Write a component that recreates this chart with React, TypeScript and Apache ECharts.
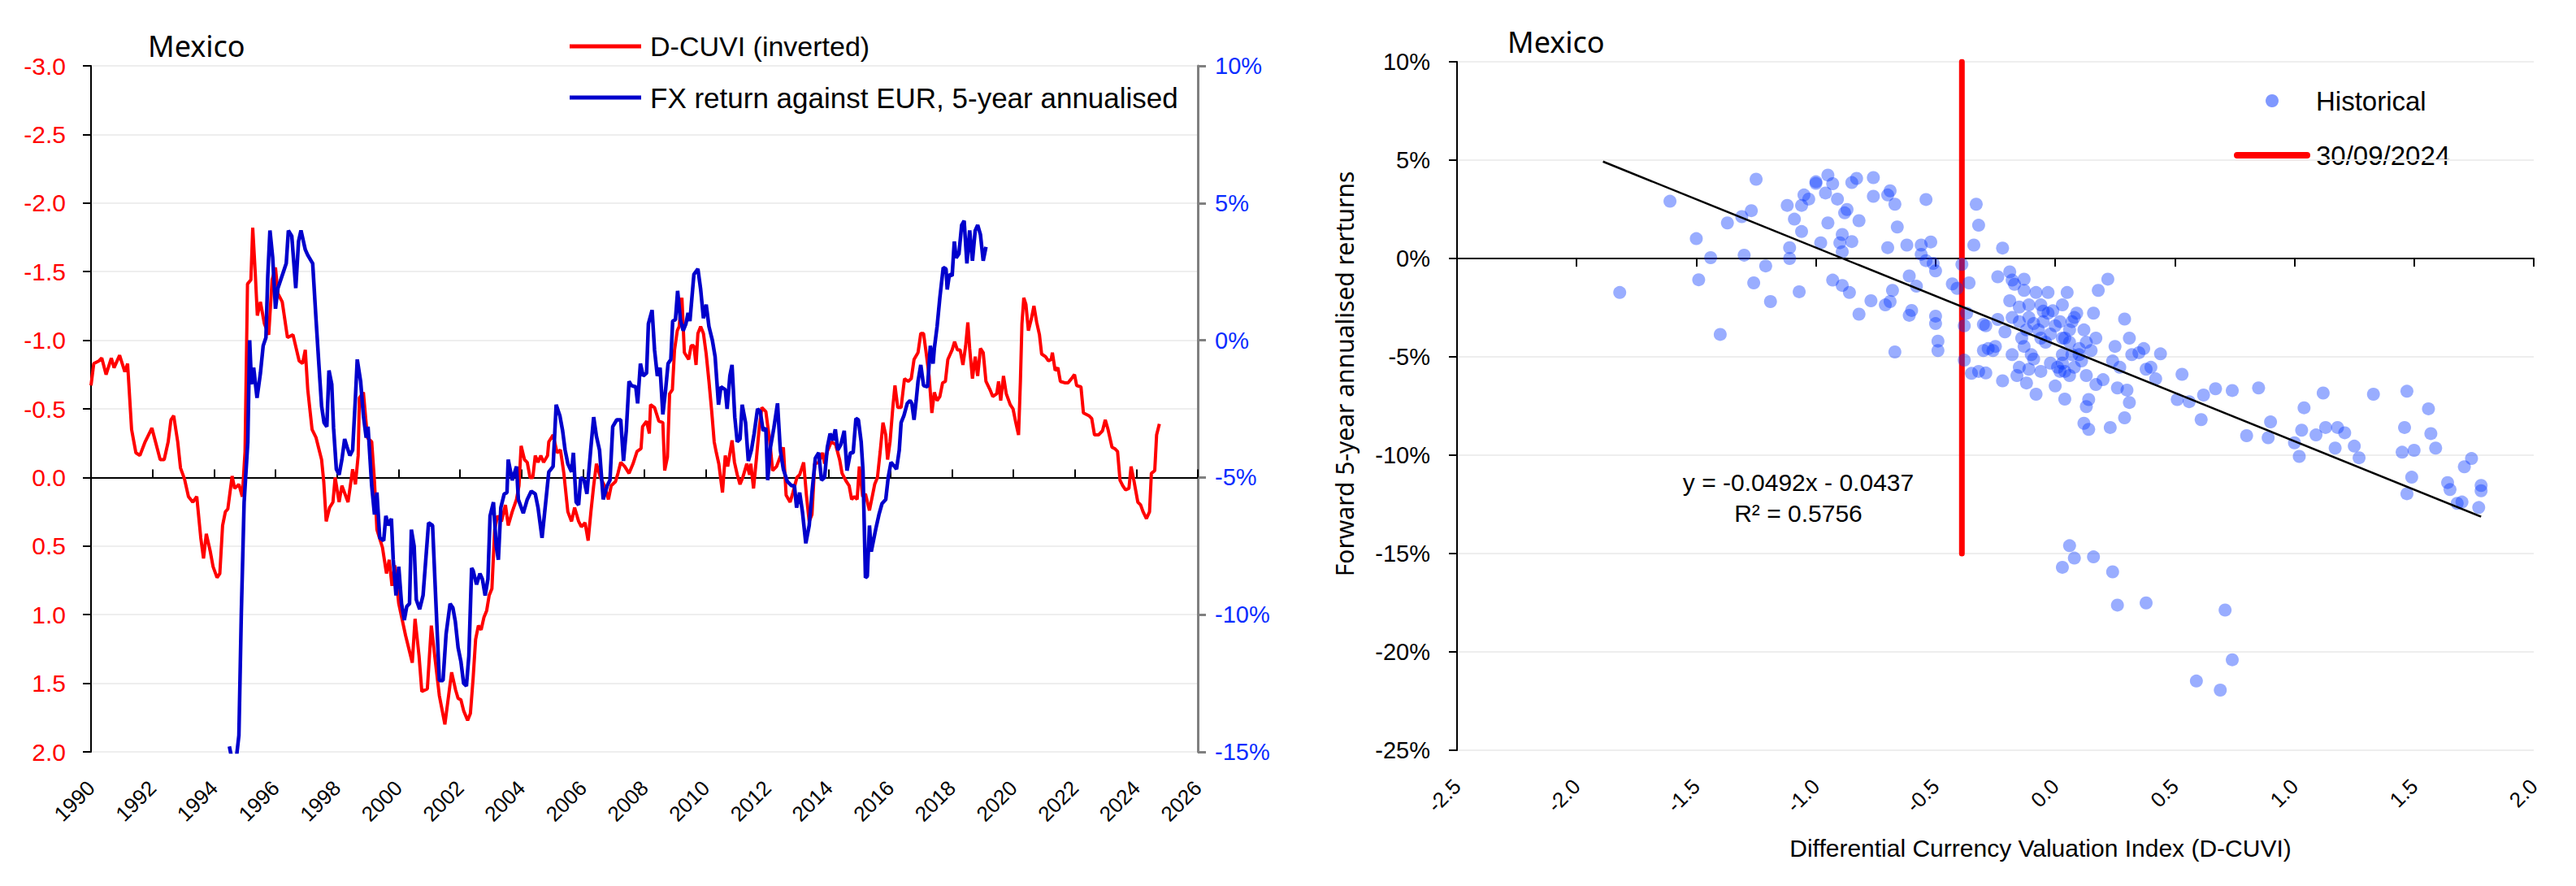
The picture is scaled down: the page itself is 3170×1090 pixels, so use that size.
import React, { useEffect, useRef } from "react";
import * as echarts from "echarts";

// ---------- Left chart data (decimal years) ----------
const dcuviYears = [
  1990.0, 1990.09, 1990.26, 1990.35, 1990.49, 1990.66, 1990.75, 1990.93, 1991.1, 1991.19, 1991.32, 1991.46, 1991.59,
  1991.76, 1991.98, 1992.25, 1992.38, 1992.51, 1992.6, 1992.69, 1992.82, 1992.91, 1993.04, 1993.17, 1993.31, 1993.44,
  1993.57, 1993.66, 1993.75, 1993.88, 1993.97, 1994.1, 1994.19, 1994.28, 1994.37, 1994.45, 1994.59, 1994.67, 1994.81,
  1994.92, 1995.01, 1995.09, 1995.2, 1995.26, 1995.34, 1995.41, 1995.51, 1995.64, 1995.78, 1995.89, 1996.0, 1996.08,
  1996.22, 1996.39, 1996.57, 1996.77, 1996.88, 1996.97, 1997.05, 1997.19, 1997.32, 1997.5, 1997.57, 1997.65, 1997.76,
  1997.87, 1997.94, 1998.07, 1998.16, 1998.36, 1998.51, 1998.6, 1998.69, 1998.73, 1998.86, 1998.99, 1999.13, 1999.22,
  1999.3, 1999.48, 1999.61, 1999.7, 1999.79, 1999.88, 2000.01, 2000.23, 2000.45, 2000.54, 2000.67, 2000.76, 2000.94,
  2001.07, 2001.2, 2001.33, 2001.51, 2001.73, 2001.86, 2001.94, 2002.03, 2002.12, 2002.25, 2002.34, 2002.43, 2002.51,
  2002.6, 2002.69, 2002.78, 2002.87, 2002.95, 2003.04, 2003.13, 2003.22, 2003.35, 2003.48, 2003.57, 2003.7, 2003.84,
  2003.92, 2003.99, 2004.1, 2004.19, 2004.28, 2004.37, 2004.45, 2004.54, 2004.63, 2004.72, 2004.85, 2004.89, 2005.03,
  2005.16, 2005.27, 2005.38, 2005.51, 2005.63, 2005.73, 2005.86, 2005.95, 2006.07, 2006.17, 2006.26, 2006.35, 2006.44,
  2006.57, 2006.7, 2006.83, 2006.92, 2007.06, 2007.14, 2007.23, 2007.36, 2007.5, 2007.63, 2007.76, 2007.89, 2007.94,
  2008.07, 2008.16, 2008.2, 2008.33, 2008.47, 2008.6, 2008.66, 2008.75, 2008.82, 2008.91, 2008.98, 2009.07, 2009.13,
  2009.22, 2009.3, 2009.44, 2009.52, 2009.61, 2009.68, 2009.74, 2009.83, 2009.92, 2010.01, 2010.1, 2010.19, 2010.27,
  2010.34, 2010.42, 2010.54, 2010.63, 2010.71, 2010.85, 2010.93, 2011.02, 2011.11, 2011.2, 2011.33, 2011.42, 2011.46,
  2011.55, 2011.64, 2011.73, 2011.82, 2011.95, 2012.08, 2012.17, 2012.3, 2012.43, 2012.52, 2012.61, 2012.74, 2012.83,
  2012.96, 2013.05, 2013.18, 2013.27, 2013.36, 2013.45, 2013.54, 2013.67, 2013.8, 2013.86, 2013.95, 2014.08, 2014.22,
  2014.35, 2014.43, 2014.57, 2014.66, 2014.74, 2014.83, 2014.92, 2014.99, 2015.1, 2015.19, 2015.32, 2015.41, 2015.49,
  2015.58, 2015.67, 2015.76, 2015.85, 2015.91, 2015.99, 2016.08, 2016.15, 2016.24, 2016.35, 2016.46, 2016.58, 2016.68,
  2016.77, 2016.9, 2016.99, 2017.08, 2017.17, 2017.26, 2017.35, 2017.43, 2017.52, 2017.61, 2017.7, 2017.79, 2017.87,
  2018.01, 2018.09, 2018.18, 2018.27, 2018.36, 2018.45, 2018.52, 2018.58, 2018.67, 2018.76, 2018.84, 2018.93, 2019.02,
  2019.11, 2019.24, 2019.33, 2019.46, 2019.52, 2019.59, 2019.68, 2019.77, 2019.9, 2019.99, 2020.08, 2020.17, 2020.23,
  2020.28, 2020.34, 2020.41, 2020.49, 2020.58, 2020.67, 2020.76, 2020.85, 2020.92, 2021.05, 2021.14, 2021.23, 2021.27,
  2021.36, 2021.45, 2021.53, 2021.67, 2021.78, 2021.89, 2021.99, 2022.06, 2022.2, 2022.28, 2022.46, 2022.55, 2022.64,
  2022.77, 2022.9, 2022.99, 2023.08, 2023.21, 2023.3, 2023.39, 2023.47, 2023.56, 2023.65, 2023.76, 2023.83, 2023.92,
  2024.05, 2024.14, 2024.22, 2024.33, 2024.43, 2024.49, 2024.6, 2024.66, 2024.75,
];
const dcuviValues = [
  -0.67, -0.83, -0.85, -0.87, -0.75, -0.87, -0.8, -0.89, -0.77, -0.83, -0.35, -0.18, -0.16, -0.26, -0.36, -0.13, -0.13,
  -0.26, -0.42, -0.45, -0.26, -0.07, 0.01, 0.14, 0.18, 0.14, 0.44, 0.59, 0.41, 0.54, 0.65, 0.73, 0.7, 0.35, 0.25, 0.23,
  -0.01, 0.08, 0.05, 0.14, -0.19, -1.41, -1.44, -1.82, -1.5, -1.18, -1.28, -1.12, -1.04, -1.44, -1.53, -1.34, -1.28,
  -1.02, -1.04, -0.85, -0.83, -0.93, -0.64, -0.35, -0.29, -0.13, 0.03, 0.32, 0.22, 0.18, 0.0, 0.18, 0.06, 0.18, -0.06,
  0.05, -0.16, -0.58, -0.62, -0.29, -0.26, 0.03, 0.38, 0.51, 0.7, 0.6, 0.79, 0.64, 0.92, 1.15, 1.35, 1.03, 1.3, 1.56,
  1.54, 1.08, 1.34, 1.59, 1.8, 1.42, 1.55, 1.61, 1.62, 1.7, 1.77, 1.72, 1.46, 1.18, 1.08, 1.11, 1.02, 0.97, 0.86, 0.81,
  0.38, 0.28, 0.32, 0.2, 0.35, 0.25, 0.16, 0.06, -0.23, -0.13, -0.11, 0.0, 0.0, -0.16, -0.11, -0.16, -0.11, -0.16,
  -0.26, -0.31, -0.18, -0.2, -0.03, 0.25, 0.32, 0.22, 0.32, 0.36, 0.33, 0.46, 0.25, 0.06, -0.1, 0.0, 0.06, 0.16, 0.06,
  0.03, -0.03, -0.11, -0.08, -0.03, -0.1, -0.19, -0.21, -0.37, -0.41, -0.32, -0.53, -0.51, -0.41, -0.4, -0.05, -0.15,
  -0.61, -0.64, -0.93, -1.07, -1.1, -1.31, -0.91, -0.86, -0.96, -0.96, -0.82, -1.05, -1.1, -1.05, -0.9, -0.7, -0.48,
  -0.26, -0.18, -0.1, 0.11, -0.16, -0.08, -0.27, -0.11, -0.02, 0.05, 0.0, -0.1, -0.02, -0.1, 0.08, -0.13, -0.35, -0.51,
  -0.48, -0.26, -0.05, -0.08, -0.16, -0.22, 0.13, 0.18, 0.11, 0.0, -0.02, -0.11, 0.13, 0.32, 0.27, -0.1, -0.11, -0.18,
  -0.1, -0.19, -0.26, -0.24, -0.13, -0.03, 0.03, 0.06, 0.16, 0.14, 0.16, -0.08, 0.14, 0.12, 0.24, 0.14, 0.05, 0.0,
  -0.19, -0.4, -0.31, -0.13, -0.26, -0.51, -0.67, -0.51, -0.51, -0.72, -0.7, -0.72, -0.86, -0.91, -1.05, -1.05, -0.9,
  -0.74, -0.47, -0.62, -0.56, -0.59, -0.69, -0.7, -0.86, -0.93, -0.99, -0.93, -0.93, -0.82, -0.96, -1.13, -0.94, -0.72,
  -0.88, -0.74, -0.94, -0.91, -0.7, -0.64, -0.59, -0.61, -0.7, -0.56, -0.74, -0.61, -0.53, -0.5, -0.4, -0.31, -0.7,
  -1.12, -1.31, -1.26, -1.07, -1.15, -1.25, -1.13, -1.04, -0.9, -0.88, -0.85, -0.86, -0.91, -0.78, -0.8, -0.7, -0.69,
  -0.69, -0.72, -0.75, -0.67, -0.66, -0.47, -0.45, -0.43, -0.31, -0.31, -0.34, -0.42, -0.35, -0.22, -0.21, -0.19, 0.02,
  0.06, 0.09, 0.08, -0.08, 0.02, 0.18, 0.2, 0.25, 0.3, 0.25, -0.03, -0.05, -0.31, -0.39,
];

const fxYears = [
  1994.5, 1994.59, 1994.72, 1994.81, 1994.89, 1994.98, 1995.1, 1995.16, 1995.22, 1995.29, 1995.4, 1995.51, 1995.6,
  1995.69, 1995.75, 1995.82, 1995.91, 1996.0, 1996.08, 1996.26, 1996.35, 1996.42, 1996.53, 1996.66, 1996.75, 1996.83,
  1996.97, 1997.05, 1997.21, 1997.32, 1997.41, 1997.5, 1997.58, 1997.67, 1997.74, 1997.83, 1997.89, 1997.98, 1998.07,
  1998.16, 1998.25, 1998.33, 1998.42, 1998.51, 1998.6, 1998.66, 1998.77, 1998.86, 1998.95, 1999.01, 1999.13, 1999.22,
  1999.3, 1999.39, 1999.52, 1999.59, 1999.68, 1999.77, 1999.83, 1999.92, 2000.01, 2000.1, 2000.19, 2000.27, 2000.36,
  2000.42, 2000.51, 2000.58, 2000.69, 2000.8, 2000.98, 2001.11, 2001.2, 2001.33, 2001.45, 2001.55, 2001.68, 2001.77,
  2001.85, 2001.94, 2002.03, 2002.12, 2002.21, 2002.29, 2002.38, 2002.43, 2002.54, 2002.65, 2002.73, 2002.82, 2002.91,
  2002.98, 2003.09, 2003.18, 2003.25, 2003.33, 2003.44, 2003.53, 2003.57, 2003.7, 2003.84, 2003.9, 2004.06, 2004.19,
  2004.32, 2004.45, 2004.54, 2004.67, 2004.79, 2004.89, 2005.03, 2005.13, 2005.25, 2005.34, 2005.42, 2005.51, 2005.63,
  2005.69, 2005.78, 2005.86, 2005.93, 2006.04, 2006.13, 2006.26, 2006.35, 2006.44, 2006.54, 2006.66, 2006.79, 2006.88,
  2006.97, 2007.1, 2007.23, 2007.32, 2007.41, 2007.5, 2007.58, 2007.72, 2007.78, 2007.87, 2007.96, 2008.07, 2008.13,
  2008.25, 2008.33, 2008.42, 2008.51, 2008.6, 2008.69, 2008.77, 2008.86, 2008.92, 2009.01, 2009.08, 2009.17, 2009.26,
  2009.35, 2009.42, 2009.48, 2009.61, 2009.74, 2009.83, 2009.92, 2010.01, 2010.1, 2010.21, 2010.3, 2010.41, 2010.49,
  2010.63, 2010.69, 2010.78, 2010.85, 2010.94, 2011.02, 2011.11, 2011.18, 2011.29, 2011.38, 2011.48, 2011.57, 2011.68,
  2011.77, 2011.86, 2011.95, 2012.01, 2012.1, 2012.21, 2012.33, 2012.42, 2012.52, 2012.65, 2012.79, 2012.88, 2012.95,
  2013.05, 2013.14, 2013.25, 2013.36, 2013.45, 2013.56, 2013.67, 2013.76, 2013.86, 2013.95, 2014.04, 2014.13, 2014.21,
  2014.29, 2014.39, 2014.5, 2014.59, 2014.7, 2014.79, 2014.88, 2014.96, 2015.05, 2015.11, 2015.19, 2015.25, 2015.32,
  2015.38, 2015.45, 2015.54, 2015.63, 2015.73, 2015.85, 2015.93, 2016.02, 2016.14, 2016.2, 2016.29, 2016.35, 2016.44,
  2016.55, 2016.64, 2016.7, 2016.77, 2016.84, 2016.9, 2016.99, 2017.08, 2017.21, 2017.3, 2017.39, 2017.43, 2017.52,
  2017.61, 2017.72, 2017.81, 2017.85, 2017.92, 2018.01, 2018.08, 2018.14, 2018.23, 2018.32, 2018.4, 2018.49, 2018.58,
  2018.67, 2018.76, 2018.84, 2018.93, 2019.02, 2019.11,
];
const fxValues = [
  -14.8, -15.3, -15.3, -14.4, -9.9, -5.9, -3.7, 0.0, -1.6, -1.0, -2.1, -1.2, -0.2, 0.1, 2.35, 4.0, 3.0, 1.15, 1.9, 2.5,
  2.8, 4.0, 3.8, 1.9, 3.6, 4.0, 3.3, 3.1, 2.8, 0.75, -0.85, -2.4, -3.0, -3.15, -1.1, -1.6, -3.2, -4.7, -4.9, -4.35,
  -3.6, -3.9, -4.2, -4.0, -2.1, -0.7, -1.5, -2.75, -3.55, -3.15, -5.3, -6.35, -5.55, -7.2, -7.3, -6.4, -6.75, -6.5,
  -8.0, -9.3, -8.25, -9.6, -10.2, -9.7, -9.6, -6.9, -7.5, -9.45, -9.8, -9.3, -6.65, -6.75, -9.1, -12.4, -12.4, -10.7,
  -9.6, -9.75, -10.25, -11.2, -11.7, -12.5, -12.6, -11.5, -8.3, -8.4, -8.9, -8.5, -8.7, -9.3, -8.7, -6.4, -5.9, -7.5,
  -8.0, -6.1, -5.6, -5.55, -4.35, -5.1, -4.6, -5.8, -6.3, -5.8, -5.5, -5.6, -6.1, -7.2, -5.9, -4.8, -4.6, -2.35, -2.75,
  -3.3, -4.0, -4.5, -4.8, -4.1, -5.9, -6.0, -5.0, -5.1, -5.6, -3.9, -2.8, -3.5, -4.0, -5.8, -5.3, -5.1, -3.15, -2.9,
  -2.9, -4.4, -3.3, -1.5, -1.65, -1.7, -2.3, -0.85, -1.3, -1.2, 0.6, 1.1, -0.35, -1.3, -1.0, -2.7, -1.8, -0.85, -0.7,
  0.7, 0.75, 1.8, 0.75, 0.35, 0.6, 1.0, 0.7, 2.4, 2.6, 1.85, 0.8, 1.3, 0.5, 0.0, -0.6, -2.35, -1.7, -1.8, -2.5, -1.3,
  -0.9, -2.8, -3.7, -3.6, -2.35, -3.0, -4.4, -4.0, -3.4, -2.5, -2.6, -3.3, -3.2, -5.1, -3.9, -3.2, -2.3, -4.0, -4.7,
  -5.15, -5.3, -5.3, -6.1, -5.55, -6.25, -7.4, -6.75, -5.55, -4.3, -4.1, -5.1, -5.0, -3.9, -3.4, -3.65, -3.25, -4.0,
  -3.8, -3.3, -4.75, -4.1, -4.1, -2.85, -2.9, -3.7, -4.75, -8.65, -8.6, -6.75, -7.7, -7.3, -6.8, -6.35, -5.95, -5.8,
  -5.0, -4.45, -4.6, -4.7, -4.0, -3.0, -2.75, -2.3, -2.2, -2.3, -2.9, -2.2, -1.5, -0.9, -1.65, -1.7, -0.2, -0.85, -0.3,
  0.5, 1.55, 2.65, 2.6, 1.85, 2.4, 2.35, 3.6, 3.0, 3.15, 4.2, 4.35, 2.8, 4.0, 2.9, 4.0, 4.2, 3.85, 2.9, 3.4,
];

// ---------- Right chart data ----------
const scatterX = [
  -1.82, -1.61, -1.5, -1.49, -1.44, -1.4, -1.37, -1.3, -1.31, -1.27, -1.25, -1.26, -1.21, -1.19, -1.12, -1.11, -1.11,
  -1.09, -1.07, -1.06, -1.06, -1.05, -1.03, -1.0, -1.0, -0.98, -0.96, -0.95, -0.95, -0.93, -0.91, -0.9, -0.89, -0.89,
  -0.93, -0.89, -0.88, -0.87, -0.86, -0.85, -0.85, -0.83, -0.82, -0.82, -0.77, -0.76, -0.76, -0.71, -0.7, -0.7, -0.69,
  -0.69, -0.68, -0.67, -0.67, -0.66, -0.62, -0.61, -0.61, -0.6, -0.58, -0.56, -0.56, -0.54, -0.54, -0.52, -0.51, -0.5,
  -0.5, -0.5, -0.49, -0.49, -0.43, -0.41, -0.39, -0.38, -0.38, -0.37, -0.36, -0.35, -0.34, -0.33, -0.32, -0.32, -0.3,
  -0.3, -0.29, -0.26, -0.25, -0.24, -0.22, -0.22, -0.24, -0.21, -0.19, -0.19, -0.18, -0.17, -0.16, -0.15, -0.15, -0.14,
  -0.13, -0.13, -0.12, -0.11, -0.11, -0.1, -0.09, -0.08, -0.08, -0.07, -0.06, -0.06, -0.05, -0.04, -0.03, -0.03, -0.02,
  -0.01, 0.0, 0.01, 0.02, 0.02, 0.03, 0.03, 0.04, 0.04, 0.05, 0.06, 0.06, 0.07, 0.08, 0.08, 0.09, 0.1, 0.11, 0.12, 0.13,
  0.13, 0.12, 0.14, 0.14, 0.15, 0.16, 0.17, 0.17, 0.18, 0.2, 0.22, 0.23, 0.24, 0.25, 0.26, 0.27, 0.29, 0.29, 0.3, 0.31,
  0.31, 0.32, 0.35, 0.37, 0.38, 0.4, 0.42, 0.44, 0.51, 0.53, 0.56, 0.61, 0.62, 0.67, 0.74, 0.8, 0.85, 0.89, 0.9, 1.02,
  1.0, 1.03, 1.04, 1.09, 1.12, 1.13, 1.17, 1.18, 1.21, 1.25, 1.27, 1.33, 1.45, 1.46, 1.47, 1.47, 1.49, 1.5, 1.56, 1.57,
  1.59, 1.64, 1.65, 1.68, 1.71, 1.74, 1.77, 1.78, 1.78, 1.7, 0.06, 0.08, 0.03, 0.16, 0.24, 0.26, 0.38, 0.71, 0.74, 0.59,
  0.69, -0.18, -0.13, -0.11, -0.06, -0.02, 0.03, 0.06, 0.07, 0.1, 0.13, -0.09, -0.12, 0.0, -0.05, 0.04, -0.18, -0.28,
  -0.15, 0.03, -0.29,
];
const scatterY = [
  -1.73, 2.91, 1.01, -1.08, 0.04, -3.86, 1.81, 0.17, 2.13, 2.43, 4.03, -1.24, -0.38, -2.19, 2.7, 0.55, 0.0, 2.0, -1.69,
  1.37, 2.7, 3.23, 3.02, 3.82, 3.9, 0.8, 3.33, 4.24, 1.81, 3.8, 3.02, 0.8, 1.22, 0.34, -1.1, -1.37, 2.32, 2.49, -1.73,
  0.86, 3.86, 4.07, 1.92, -2.83, -2.15, 4.11, 3.16, -2.36, 3.23, 0.55, -2.19, 3.44, -1.62, 2.76, -4.75, 1.6, 0.68,
  -0.89, -2.89, -2.64, -1.41, 0.68, 0.21, 3.0, -0.11, 0.84, -0.25, -0.63, -2.93, -3.31, -4.2, -4.68, -1.29, -1.52,
  -0.3, -3.42, -5.17, -2.78, -1.24, -5.84, 0.68, 2.76, 1.69, -5.74, -3.35, -4.68, -5.82, -4.68, -4.47, -0.93, 0.53,
  -6.22, -3.1, -3.73, -2.15, -0.68, -1.1, -1.31, -5.95, -5.53, -2.47, -4.05, -1.62, -1.05, -6.33, -2.36, -3.0, -4.89,
  -3.31, -6.9, -1.73, -3.63, -5.74, -2.36, -3.21, -4.26, -1.73, -2.78, -3.84, -2.66, -6.48, -5.53, -5.74, -3.21, -2.36,
  -4.89, -5.74, -7.15, -1.73, -3.63, -4.26, -4.89, -5.53, -3.0, -2.78, -4.58, -5.21, -3.63, -7.53, -4.26, -8.38, -8.69,
  -7.17, -4.68, -2.78, -4.05, -6.41, -1.62, -6.16, -1.05, -8.59, -5.21, -4.47, -6.58, -5.53, -8.1, -3.08, -6.69, -4.05,
  -7.32, -4.89, -4.79, -4.58, -5.63, -5.53, -6.12, -4.85, -7.17, -5.89, -7.28, -8.19, -6.94, -6.62, -6.71, -9.01,
  -6.58, -9.11, -8.31, -10.06, -9.37, -8.73, -7.59, -8.97, -6.84, -8.59, -9.64, -8.59, -8.86, -9.54, -10.13, -6.9,
  -9.85, -8.59, -6.75, -11.96, -11.12, -9.75, -7.64, -8.9, -9.64, -11.39, -11.75, -12.45, -10.59, -10.17, -12.66,
  -11.54, -11.81, -12.38, -14.6, -15.23, -15.7, -15.17, -15.93, -17.62, -17.51, -17.87, -20.4, -21.48, -21.94, -3.0,
  -4.47, -5.63, -4.05, -5.32, -4.05, -5.95, -3.21, -4.89, -5.95, -5.11, -3.63, -3.42, -2.68, -4.05, -4.89, -4.58,
  -3.21, -5.32, -3.42,
];

const regressionSlope = -0.0492;
const regressionIntercept = -0.0437;
const regressionR2 = 0.5756;
const trendRange = [-1.89, 1.78];
const latestLabel = "30/09/2024";
const latestLineRange = [10, -15];

const yearTicks = { min: 1990, max: 2026, step: 2 };
const dcuviTicks = { min: -3, max: 2, step: 0.5 };
const fxTicks = { min: -15, max: 10, step: 5 };
const cuviXTicks = { min: -2.5, max: 2, step: 0.5 };
const retTicks = { min: -25, max: 10, step: 5 };

// ---------- styles ----------
const RED = "#ff0000";
const BLUE = "#0000cc";
const LABEL_BLUE = "#0a2dff";
const DOT = "rgba(0, 50, 255, 0.5)";
const GRID = "#eeeeee";
const FONT = '"Liberation Sans", Arial, Roboto, sans-serif';
const TITLE_FONT = '"Noto Sans", "Open Sans", sans-serif';

function buildOption() {
  const dcuvi = dcuviYears.map((y, i) => [y, dcuviValues[i]]);
  const fx = fxYears.map((y, i) => [y, fxValues[i]]);
  const scatter = scatterX.map((x, i) => [x, scatterY[i]]);
  const trend = trendRange.map((x) => [x, (regressionSlope * x + regressionIntercept) * 100]);
  const latest = dcuviValues[dcuviValues.length - 1];
  const latestLine = latestLineRange.map((y) => [latest, y]);

  const hiddenLine = { show: false, onZero: false };
  const fmtYear = (v: number) => String(Math.round(v));
  const fmt1 = (v: number) => (Math.abs(v) < 1e-9 ? 0 : v).toFixed(1);
  const fmtPct = (v: number) => Math.round(v) + "%";

  return {
    animation: false,
    backgroundColor: "#ffffff",
    textStyle: { fontFamily: FONT },
    grid: [
      { left: 112, top: 81, width: 1362, height: 844 },
      { left: 1793, top: 76, width: 1325, height: 847 },
    ],
    xAxis: [
      {
        gridIndex: 0,
        type: "value",
        min: yearTicks.min,
        max: yearTicks.max,
        interval: yearTicks.step,
        position: "bottom",
        axisLine: hiddenLine,
        axisTick: { show: false },
        splitLine: { show: false },
        axisLabel: { rotate: 45, margin: 40, fontSize: 26, color: "#000", fontFamily: FONT, formatter: fmtYear },
      },
      {
        gridIndex: 0,
        type: "value",
        min: yearTicks.min,
        max: yearTicks.max,
        interval: yearTicks.step,
        position: "bottom",
        axisLine: { show: true, onZero: true, onZeroAxisIndex: 0, lineStyle: { color: "#000", width: 2 } },
        axisTick: { show: true, inside: true, length: 10, lineStyle: { color: "#000", width: 2 } },
        axisLabel: { show: false },
        splitLine: { show: false },
      },
      {
        gridIndex: 1,
        type: "value",
        min: cuviXTicks.min,
        max: cuviXTicks.max,
        interval: cuviXTicks.step,
        position: "bottom",
        axisLine: hiddenLine,
        axisTick: { show: false },
        splitLine: { show: false },
        axisLabel: { rotate: 45, margin: 40, fontSize: 26, color: "#000", fontFamily: FONT, formatter: fmt1 },
      },
      {
        gridIndex: 1,
        type: "value",
        min: cuviXTicks.min,
        max: cuviXTicks.max,
        interval: cuviXTicks.step,
        position: "bottom",
        axisLine: { show: true, onZero: true, onZeroAxisIndex: 2, lineStyle: { color: "#000", width: 2 } },
        axisTick: { show: true, inside: false, length: 10, lineStyle: { color: "#000", width: 2 } },
        axisLabel: { show: false },
        splitLine: { show: false },
      },
    ],
    yAxis: [
      {
        gridIndex: 0,
        type: "value",
        min: dcuviTicks.min,
        max: dcuviTicks.max,
        interval: dcuviTicks.step,
        inverse: true,
        position: "left",
        axisLine: { show: true, onZero: false, lineStyle: { color: "#000", width: 2 } },
        axisTick: { show: true, length: 10, lineStyle: { color: "#000", width: 2 } },
        axisLabel: { color: RED, fontSize: 30, margin: 31, fontFamily: FONT, formatter: fmt1 },
        splitLine: { show: true, lineStyle: { color: GRID, width: 2 } },
      },
      {
        gridIndex: 0,
        type: "value",
        min: fxTicks.min,
        max: fxTicks.max,
        interval: fxTicks.step,
        position: "right",
        axisLine: { show: true, onZero: false, lineStyle: { color: "#808080", width: 3 } },
        axisTick: { show: true, length: 10, lineStyle: { color: "#808080", width: 3 } },
        axisLabel: { color: LABEL_BLUE, fontSize: 29, margin: 21, fontFamily: FONT, formatter: fmtPct },
        splitLine: { show: false },
      },
      {
        gridIndex: 1,
        type: "value",
        min: retTicks.min,
        max: retTicks.max,
        interval: retTicks.step,
        position: "left",
        axisLine: { show: true, onZero: false, lineStyle: { color: "#000", width: 2 } },
        axisTick: { show: true, length: 10, lineStyle: { color: "#000", width: 2 } },
        axisLabel: { color: "#000", fontSize: 29, margin: 33, fontFamily: FONT, formatter: fmtPct },
        splitLine: { show: true, lineStyle: { color: GRID, width: 2 } },
      },
    ],
    series: [
      {
        name: "D-CUVI (inverted)",
        type: "line",
        xAxisIndex: 0,
        yAxisIndex: 0,
        data: dcuvi,
        showSymbol: false,
        clip: true,
        lineStyle: { color: RED, width: 4 },
        itemStyle: { color: RED },
        z: 3,
      },
      {
        name: "FX return against EUR, 5-year annualised",
        type: "line",
        xAxisIndex: 0,
        yAxisIndex: 1,
        data: fx,
        showSymbol: false,
        clip: true,
        lineStyle: { color: BLUE, width: 4.5 },
        itemStyle: { color: BLUE },
        z: 4,
      },
      {
        name: latestLabel,
        type: "line",
        xAxisIndex: 2,
        yAxisIndex: 2,
        data: latestLine,
        showSymbol: false,
        lineStyle: { color: RED, width: 7, cap: "round" },
        itemStyle: { color: RED },
        z: 2,
      },
      {
        name: "Historical",
        type: "scatter",
        xAxisIndex: 2,
        yAxisIndex: 2,
        data: scatter,
        symbol: "circle",
        symbolSize: 16,
        itemStyle: { color: DOT },
        z: 3,
      },
      {
        name: "Trend",
        type: "line",
        xAxisIndex: 2,
        yAxisIndex: 2,
        data: trend,
        showSymbol: false,
        lineStyle: { color: "#000", width: 2.5 },
        itemStyle: { color: "#000" },
        z: 4,
      },
    ],
    graphic: [
      // left chart title + legend
      { type: "text", left: 182, top: 38, style: { text: "Mexico", font: `36px ${TITLE_FONT}`, fill: "#000" } },
      { type: "line", shape: { x1: 701, y1: 57, x2: 789, y2: 57 }, style: { stroke: RED, lineWidth: 5 } },
      {
        type: "text",
        x: 800,
        y: 57,
        style: { text: "D-CUVI (inverted)", font: `34px ${FONT}`, fill: "#000", verticalAlign: "middle" },
      },
      { type: "line", shape: { x1: 701, y1: 120, x2: 789, y2: 120 }, style: { stroke: BLUE, lineWidth: 5 } },
      {
        type: "text",
        x: 800,
        y: 120,
        style: {
          text: "FX return against EUR, 5-year annualised",
          font: `35px ${FONT}`,
          fill: "#000",
          verticalAlign: "middle",
        },
      },
      // right chart title + legend
      { type: "text", left: 1855, top: 33, style: { text: "Mexico", font: `36px ${TITLE_FONT}`, fill: "#000" } },
      { type: "circle", shape: { cx: 2796, cy: 124, r: 8 }, style: { fill: DOT } },
      {
        type: "text",
        x: 2850,
        y: 124,
        style: { text: "Historical", font: `33px ${FONT}`, fill: "#000", verticalAlign: "middle" },
      },
      {
        type: "line",
        shape: { x1: 2753, y1: 191, x2: 2839, y2: 191 },
        style: { stroke: RED, lineWidth: 8, lineCap: "round" },
      },
      {
        type: "text",
        x: 2850,
        y: 191,
        style: { text: latestLabel, font: `33px ${FONT}`, fill: "#000", verticalAlign: "middle" },
      },
      // regression annotation
      {
        type: "text",
        x: 2213,
        y: 593,
        style: {
          text: `y = ${regressionSlope.toFixed(4)}x - ${Math.abs(regressionIntercept).toFixed(4)}`,
          font: `30px ${FONT}`,
          fill: "#000",
          align: "center",
          verticalAlign: "middle",
        },
      },
      {
        type: "text",
        x: 2213,
        y: 631,
        style: {
          text: `R² = ${regressionR2.toFixed(4)}`,
          font: `30px ${FONT}`,
          fill: "#000",
          align: "center",
          verticalAlign: "middle",
        },
      },
      // axis titles
      {
        type: "text",
        x: 1654,
        y: 460,
        rotation: Math.PI / 2,
        style: {
          text: "Forward 5-year annualised rerturns",
          font: `30px ${TITLE_FONT}`,
          fill: "#000",
          align: "center",
          verticalAlign: "middle",
        },
      },
      {
        type: "text",
        x: 2511,
        y: 1043,
        style: {
          text: "Differential Currency Valuation Index (D-CUVI)",
          font: `30px ${FONT}`,
          fill: "#000",
          align: "center",
          verticalAlign: "middle",
        },
      },
    ],
  };
}

export default function App() {
  const ref = useRef<HTMLDivElement>(null);
  useEffect(() => {
    if (!ref.current) return;
    const chart = echarts.init(ref.current, undefined, { renderer: "svg" });
    chart.setOption(buildOption() as any);
    return () => chart.dispose();
  }, []);
  return (
    <div
      ref={ref}
      style={{ position: "absolute", left: 0, top: 0, width: 3170, height: 1090, background: "#ffffff" }}
    />
  );
}
